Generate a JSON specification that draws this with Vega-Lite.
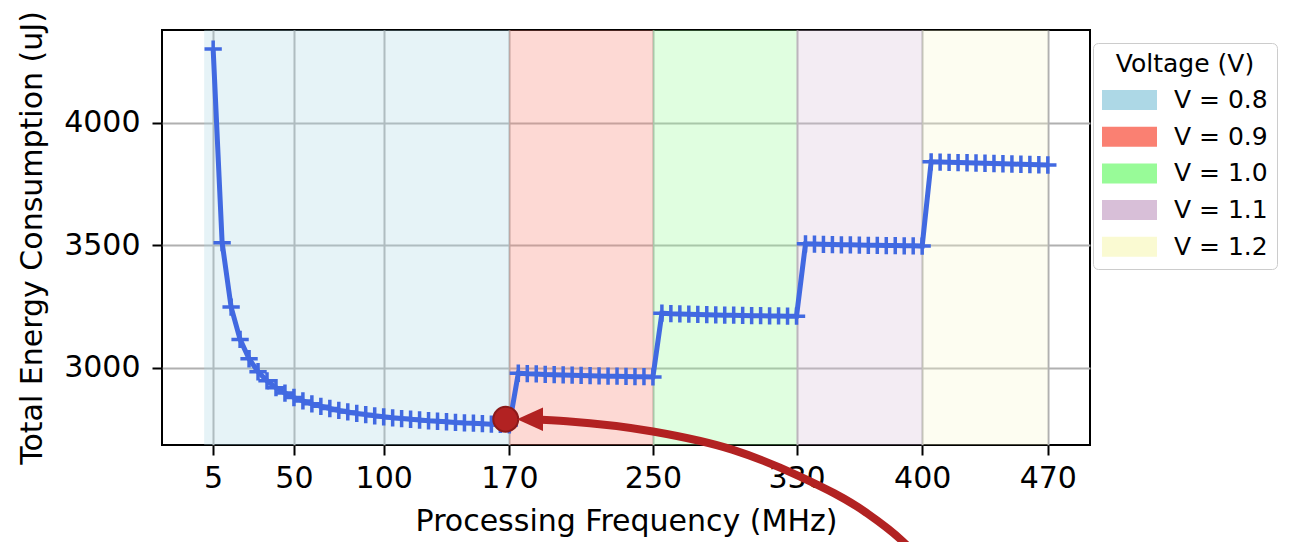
{
  "$schema": "https://vega.github.io/schema/vega-lite/v6.json",
  "width": 928,
  "height": 415,
  "autosize": {"type": "none"},
  "padding": {"left": 162, "top": 30, "right": 204, "bottom": 97},
  "background": "white",
  "config": {
    "font": "DejaVu Sans",
    "view": {"stroke": "black", "strokeWidth": 2},
    "axis": {
      "labelFont": "DejaVu Sans",
      "titleFont": "DejaVu Sans",
      "labelFontSize": 30,
      "titleFontSize": 30,
      "titleFontWeight": "normal",
      "labelColor": "black",
      "titleColor": "black",
      "tickColor": "black",
      "tickWidth": 2,
      "tickSize": 10,
      "domain": false,
      "grid": true,
      "gridColor": "#b0b0b0",
      "gridWidth": 2
    }
  },
  "datasets": {
    "bands": [
      {"voltage": "V = 0.8", "f": 0, "f_end": 170},
      {"voltage": "V = 0.9", "f": 170, "f_end": 250},
      {"voltage": "V = 1.0", "f": 250, "f_end": 330},
      {"voltage": "V = 1.1", "f": 330, "f_end": 400},
      {"voltage": "V = 1.2", "f": 400, "f_end": 470}
    ],
    "energy": [
      {"f": 5, "E": 4300}, {"f": 10, "E": 3510}, {"f": 15, "E": 3247}, {"f": 20, "E": 3115},
      {"f": 25, "E": 3036}, {"f": 30, "E": 2983}, {"f": 35, "E": 2946}, {"f": 40, "E": 2918},
      {"f": 45, "E": 2896}, {"f": 50, "E": 2878}, {"f": 55, "E": 2864}, {"f": 60, "E": 2852},
      {"f": 65, "E": 2842}, {"f": 70, "E": 2833}, {"f": 75, "E": 2825}, {"f": 80, "E": 2819},
      {"f": 85, "E": 2813}, {"f": 90, "E": 2808}, {"f": 95, "E": 2803}, {"f": 100, "E": 2799},
      {"f": 105, "E": 2795}, {"f": 110, "E": 2792}, {"f": 115, "E": 2789}, {"f": 120, "E": 2786},
      {"f": 125, "E": 2783}, {"f": 130, "E": 2781}, {"f": 135, "E": 2779}, {"f": 140, "E": 2776},
      {"f": 145, "E": 2774}, {"f": 150, "E": 2773}, {"f": 155, "E": 2771}, {"f": 160, "E": 2769},
      {"f": 165, "E": 2768}, {"f": 170, "E": 2766},
      {"f": 175, "E": 2977}, {"f": 180, "E": 2975}, {"f": 185, "E": 2974}, {"f": 190, "E": 2972},
      {"f": 195, "E": 2971}, {"f": 200, "E": 2970}, {"f": 205, "E": 2969}, {"f": 210, "E": 2968},
      {"f": 215, "E": 2967}, {"f": 220, "E": 2966}, {"f": 225, "E": 2965}, {"f": 230, "E": 2965},
      {"f": 235, "E": 2964}, {"f": 240, "E": 2963}, {"f": 245, "E": 2963}, {"f": 250, "E": 2962},
      {"f": 255, "E": 3222}, {"f": 260, "E": 3220}, {"f": 265, "E": 3219}, {"f": 270, "E": 3218},
      {"f": 275, "E": 3217}, {"f": 280, "E": 3216}, {"f": 285, "E": 3215}, {"f": 290, "E": 3214},
      {"f": 295, "E": 3214}, {"f": 300, "E": 3213}, {"f": 305, "E": 3212}, {"f": 310, "E": 3212},
      {"f": 315, "E": 3211}, {"f": 320, "E": 3211}, {"f": 325, "E": 3210}, {"f": 330, "E": 3210},
      {"f": 335, "E": 3505}, {"f": 340, "E": 3504}, {"f": 345, "E": 3503}, {"f": 350, "E": 3502},
      {"f": 355, "E": 3501}, {"f": 360, "E": 3501}, {"f": 365, "E": 3500}, {"f": 370, "E": 3499},
      {"f": 375, "E": 3499}, {"f": 380, "E": 3498}, {"f": 385, "E": 3498}, {"f": 390, "E": 3497},
      {"f": 395, "E": 3497}, {"f": 400, "E": 3496},
      {"f": 405, "E": 3840}, {"f": 410, "E": 3839}, {"f": 415, "E": 3838}, {"f": 420, "E": 3837},
      {"f": 425, "E": 3836}, {"f": 430, "E": 3835}, {"f": 435, "E": 3834}, {"f": 440, "E": 3833},
      {"f": 445, "E": 3832}, {"f": 450, "E": 3831}, {"f": 455, "E": 3830}, {"f": 460, "E": 3829},
      {"f": 465, "E": 3828}, {"f": 470, "E": 3827}
    ],
    "marker": [{"f": 168, "E": 2789}],
    "arrow": [
      {"f": 181.5, "E": 2789}, {"f": 202, "E": 2781}, {"f": 250, "E": 2739},
      {"f": 294.6, "E": 2664}, {"f": 332, "E": 2555}, {"f": 369, "E": 2407},
      {"f": 389.3, "E": 2290}, {"f": 396, "E": 2240}
    ],
    "arrowhead": [{"f": 181.5, "E": 2789}]
  },
  "encoding": {
    "x": {
      "field": "f",
      "type": "quantitative",
      "scale": {"domain": [-23.5, 493.5], "nice": false, "zero": false},
      "axis": {
        "title": "Processing Frequency (MHz)",
        "values": [5, 50, 100, 170, 250, 330, 400, 470],
        "labelPadding": 8,
        "titlePadding": 13
      }
    }
  },
  "layer": [
    {
      "data": {"name": "bands"},
      "mark": {"type": "rect", "opacity": 0.3},
      "encoding": {
        "x2": {"field": "f_end"},
        "color": {
          "field": "voltage",
          "type": "nominal",
          "scale": {
            "domain": ["V = 0.8", "V = 0.9", "V = 1.0", "V = 1.1", "V = 1.2"],
            "range": ["#add8e6", "#fa8072", "#98fb98", "#d8bfd8", "#fafad2"]
          },
          "legend": {
            "title": "Voltage (V)",
            "orient": "none",
            "legendX": 931,
            "legendY": 13,
            "strokeColor": "#cccccc",
            "fillColor": "white",
            "cornerRadius": 5,
            "padding": 9,
            "titleFont": "DejaVu Sans",
            "labelFont": "DejaVu Sans",
            "titleFontSize": 25,
            "labelFontSize": 25,
            "titleFontWeight": "normal",
            "titleColor": "black",
            "labelColor": "black",
            "titleAnchor": "middle",
            "titlePadding": 11,
            "clipHeight": 24,
            "symbolType": "M-1,-0.364L1,-0.364L1,0.364L-1,0.364Z",
            "symbolSize": 3025,
            "symbolStrokeWidth": 0,
            "symbolOpacity": 1,
            "labelOffset": 17,
            "rowPadding": 11.7,
            "encode": {"symbols": {"update": {"opacity": {"value": 1}, "fillOpacity": {"value": 1}}}}
          }
        }
      }
    },
    {
      "data": {"name": "energy"},
      "mark": {"type": "line", "color": "#4169e1", "strokeWidth": 5},
      "encoding": {
        "y": {
          "field": "E",
          "type": "quantitative",
          "scale": {"domain": [2684, 4378], "nice": false, "zero": false},
          "axis": {"title": "Total Energy Consumption (uJ)", "values": [3000, 3500, 4000], "format": "d", "labelPadding": 12, "titlePadding": 16}
        }
      }
    },
    {
      "data": {"name": "energy"},
      "mark": {"type": "point", "shape": "M-1,0L1,0M0,-1L0,1", "size": 300, "stroke": "#4169e1", "strokeWidth": 3.5, "filled": false, "opacity": 1},
      "encoding": {
        "y": {"field": "E", "type": "quantitative", "axis": {"title": "Total Energy Consumption (uJ)"}}
      }
    },
    {
      "data": {"name": "marker"},
      "mark": {"type": "point", "shape": "circle", "size": 620, "filled": true, "fill": "#b22222", "stroke": "#8b1a1a", "strokeWidth": 2, "opacity": 1},
      "encoding": {
        "y": {"field": "E", "type": "quantitative", "axis": {"title": "Total Energy Consumption (uJ)"}}
      }
    },
    {
      "data": {"name": "arrow"},
      "mark": {"type": "line", "color": "#b22222", "strokeWidth": 8, "interpolate": "monotone", "strokeCap": "butt"},
      "encoding": {
        "y": {"field": "E", "type": "quantitative", "axis": {"title": "Total Energy Consumption (uJ)"}}
      }
    },
    {
      "data": {"name": "arrowhead"},
      "mark": {"type": "point", "shape": "M-1,0L1,-0.9L1,0.9Z", "size": 676, "filled": true, "fill": "#b22222", "strokeWidth": 0, "opacity": 1},
      "encoding": {
        "y": {"field": "E", "type": "quantitative", "axis": {"title": "Total Energy Consumption (uJ)"}}
      }
    }
  ]
}
